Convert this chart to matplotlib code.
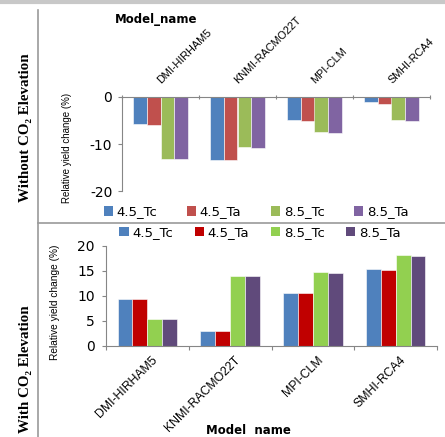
import matplotlib
matplotlib.use("Agg")
import matplotlib.pyplot as plt
from matplotlib.patches import Patch
from matplotlib.lines import Line2D
import numpy as np

models = ["DMI-HIRHAM5", "KNMI-RACMO22T", "MPI-CLM", "SMHI-RCA4"]
series = ["4.5_Tc", "4.5_Ta", "8.5_Tc", "8.5_Ta"]

# Without CO2 elevation
wo_45_tc = [-5.7, -13.5, -4.8, -1.1]
wo_45_ta = [-5.9, -13.5, -5.0, -1.5]
wo_85_tc = [-13.2, -10.7, -7.4, -4.8]
wo_85_ta = [-13.2, -10.8, -7.6, -5.0]

# With CO2 elevation
w_45_tc = [9.3, 2.95, 10.5, 15.4]
w_45_ta = [9.3, 2.9, 10.5, 15.1]
w_85_tc = [5.4, 14.05, 14.85, 18.2]
w_85_ta = [5.35, 14.0, 14.65, 17.9]

top_ticks = [0, -10, -20]
bot_ticks = [0, 5, 10, 15, 20]

top_colors = ["#4F81BD", "#C0504D", "#9BBB59", "#8064A2"]
bot_colors = ["#4F81BD", "#C00000", "#92D050", "#604A7B"]

narrow = ["Liberation Sans Narrow", "Liberation Sans", "DejaVu Sans"]
serif = ["Liberation Serif", "DejaVu Serif"]

W, H = 445, 437
fig = plt.figure(figsize=(W / 100, H / 100), dpi=100)
fig.patch.set_facecolor("white")

def fx(px):
    return px / W

def fy(py):
    return 1 - py / H

spine_c = "#868686"
x = np.arange(len(models))
bw = 0.18
offs = (np.arange(4) - 1.5) * bw

# ---------- top axes ----------
axt = fig.add_axes([fx(122), fy(191), fx(430) - fx(122), fy(97) - fy(191)])
for i, vals in enumerate([wo_45_tc, wo_45_ta, wo_85_tc, wo_85_ta]):
    axt.bar(x + offs[i], vals, bw, color=top_colors[i], edgecolor="white", linewidth=0.4)
axt.set_xlim(-0.5, 3.5)
axt.set_ylim(-20, 0)
axt.set_yticks(top_ticks)
axt.set_yticklabels([str(t) for t in top_ticks], fontsize=10)
for s in ["bottom", "right"]:
    axt.spines[s].set_visible(False)
for s in ["top", "left"]:
    axt.spines[s].set_color(spine_c)
    axt.spines[s].set_linewidth(0.8)
axt.xaxis.tick_top()
axt.set_xticks([-0.5, 0.5, 1.5, 2.5, 3.5])
axt.set_xticklabels([])
axt.tick_params(axis="x", which="major", length=3, direction="inout", color=spine_c)
axt.tick_params(axis="y", length=3, color=spine_c, pad=4)
for i, m in enumerate(models):
    axt.text(i + 0.03, 2.4, m, rotation=45, rotation_mode="anchor", ha="left", va="bottom",
             fontsize=7.8, family=narrow)

fig.text(fx(67), fy(148), "Relative yield change (%)", rotation=90, ha="center", va="center",
         fontsize=7.0, family=narrow)
fig.text(fx(115), fy(19), "Model_name", ha="left", va="center", fontsize=8.5, fontweight="bold")

h_top = [Patch(facecolor=c, edgecolor="none") for c in top_colors]
fig.legend(h_top, series, loc="center", bbox_to_anchor=(fx(256), fy(212)), ncol=4,
           frameon=False, fontsize=9.5, handlelength=0.7, handleheight=0.7,
           handletextpad=0.3, columnspacing=2.2, borderpad=0)

# ---------- bottom axes ----------
axb = fig.add_axes([fx(106), fy(345.7), fx(437) - fx(106), fy(246) - fy(345.7)])
for i, vals in enumerate([w_45_tc, w_45_ta, w_85_tc, w_85_ta]):
    axb.bar(x + offs[i], vals, bw, color=bot_colors[i], edgecolor="white", linewidth=0.4)
axb.set_xlim(-0.5, 3.5)
axb.set_ylim(0, 20)
axb.set_yticks(bot_ticks)
axb.set_yticklabels([str(t) for t in bot_ticks], fontsize=10)
for s in ["top", "right"]:
    axb.spines[s].set_visible(False)
for s in ["bottom", "left"]:
    axb.spines[s].set_color(spine_c)
    axb.spines[s].set_linewidth(0.8)
axb.set_xticks([-0.5, 0.5, 1.5, 2.5, 3.5])
axb.set_xticklabels([])
axb.tick_params(axis="x", length=3, color=spine_c)
axb.tick_params(axis="y", length=3, color=spine_c, pad=5)
for i, m in enumerate(models):
    axb.text(i + 0.1, -2.6, m, rotation=45, rotation_mode="anchor", ha="right", va="center",
             fontsize=8.8, family=narrow, transform=axb.transData)

fig.text(fx(55), fy(302), "Relative yield change (%)", rotation=90, ha="center", va="center",
         fontsize=7.3, family=narrow)
fig.text(fx(248), fy(431), "Model  name", ha="center", va="center", fontsize=8.5, fontweight="bold")

h_bot = [Patch(facecolor=c, edgecolor="none") for c in bot_colors]
fig.legend(h_bot, series, loc="center", bbox_to_anchor=(fx(260), fy(233)), ncol=4,
           frameon=False, fontsize=9.5, handlelength=0.7, handleheight=0.7,
           handletextpad=0.3, columnspacing=1.6, borderpad=0)

# ---------- frame lines and side labels ----------
fig.add_artist(Line2D([0, 1], [fy(1.5), fy(1.5)], color="#c8c8c8", linewidth=3, transform=fig.transFigure))
fig.add_artist(Line2D([fx(37.5), fx(37.5)], [fy(10), 0], color="#9a9a9a", linewidth=1.2, transform=fig.transFigure))
fig.add_artist(Line2D([fx(37.5), 1], [fy(222.5), fy(222.5)], color="#9a9a9a", linewidth=1.2, transform=fig.transFigure))

fig.text(fx(26), fy(128), "Without CO\u2082 Elevation", rotation=90, ha="center", va="center",
         fontsize=10.8, fontweight="bold", family=serif)
fig.text(fx(26), fy(369), "With CO\u2082 Elevation", rotation=90, ha="center", va="center",
         fontsize=10.8, fontweight="bold", family=serif)

fig.savefig("out.png", dpi=100)
